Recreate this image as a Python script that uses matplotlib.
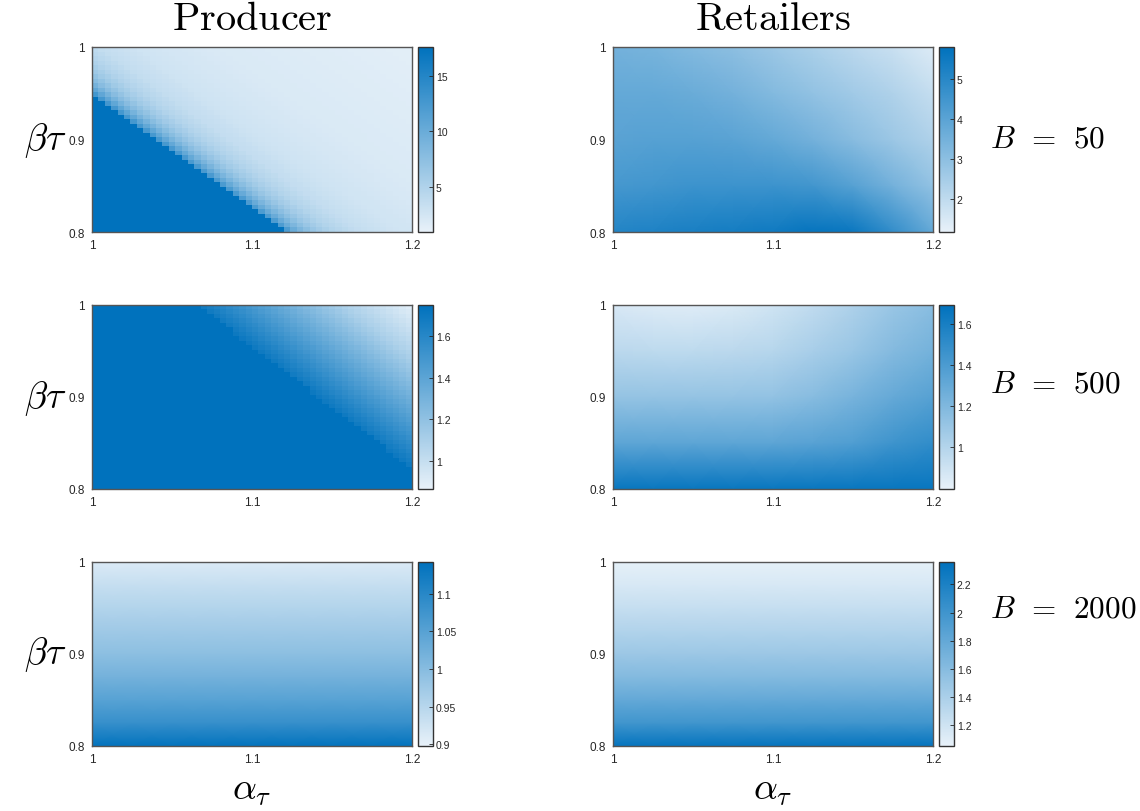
import numpy as np
import matplotlib.pyplot as plt
from matplotlib.colors import LinearSegmentedColormap
from matplotlib.ticker import FuncFormatter

plt.rcParams['mathtext.fontset'] = 'cm'
plt.rcParams['font.family'] = ['Liberation Sans', 'DejaVu Sans']

# grid anchors
alpha_pts = [1.0, 1.025, 1.05, 1.075, 1.1, 1.125, 1.15, 1.175, 1.2]
beta_pts = [0.8, 0.85, 0.9, 0.95, 1.0]
beta_fine = [0.8, 0.825, 0.85, 0.875, 0.9, 0.925, 0.95, 0.975, 1.0]

# retailers, rows = beta_pts, cols = alpha_pts
ret50 = [[5.1, 5.2, 5.3, 5.4, 5.5, 5.7, 5.6, 4.8, 3.8],
         [4.4, 4.5, 4.6, 4.6, 4.6, 4.5, 4.1, 3.5, 2.9],
         [4.0, 4.1, 4.1, 4.0, 3.8, 3.5, 3.1, 2.7, 2.3],
         [3.8, 3.8, 3.7, 3.5, 3.2, 2.9, 2.6, 2.3, 1.9],
         [3.5, 3.4, 3.2, 3.0, 2.7, 2.4, 2.1, 1.8, 1.4]]
ret500 = [[1.66, 1.66, 1.66, 1.66, 1.66, 1.66, 1.66, 1.66, 1.66],
          [1.33, 1.33, 1.33, 1.33, 1.33, 1.35, 1.38, 1.45, 1.50],
          [1.12, 1.12, 1.12, 1.12, 1.13, 1.17, 1.23, 1.30, 1.36],
          [0.97, 0.96, 0.96, 0.97, 0.99, 1.04, 1.10, 1.18, 1.24],
          [0.86, 0.84, 0.83, 0.85, 0.89, 0.95, 1.02, 1.10, 1.16]]
# B=2000 only changes with beta (rows = beta_fine)
prod2000 = [1.14, 1.085, 1.05, 1.02, 0.995, 0.975, 0.955, 0.935, 0.912]
ret2000 = [2.33, 2.0, 1.8, 1.62, 1.48, 1.36, 1.25, 1.15, 1.07]

# producer: saturated area below an edge line, value vs distance from the edge
prod50_edge_beta = [0.8, 1.0]
prod50_edge_alpha = [1.122, 0.960]
prod50_off = [0, 0.006, 0.012, 0.02, 0.03, 0.045, 0.07, 0.12, 0.24]
prod50_val = [13, 10, 8.0, 6.2, 4.8, 3.6, 2.7, 2.0, 1.4]
prod500_edge_beta = [0.8, 1.0]
prod500_edge_alpha = [1.217, 1.066]
prod500_off = [0, 0.03, 0.06, 0.09, 0.135]
prod500_val = [1.70, 1.50, 1.30, 1.10, 0.88]

clims = {'p50': (0.96, 17.6), 'r50': (1.18, 5.8), 'p500': (0.866, 1.75),
         'r500': (0.795, 1.69), 'p2000': (0.898, 1.142), 'r2000': (1.05, 2.36)}
cticks = {'p50': [5, 10, 15], 'r50': [2, 3, 4, 5], 'p500': [1, 1.2, 1.4, 1.6],
          'r500': [1, 1.2, 1.4, 1.6], 'p2000': [0.9, 0.95, 1, 1.05, 1.1],
          'r2000': [1.2, 1.4, 1.6, 1.8, 2, 2.2]}

cmap = LinearSegmentedColormap.from_list('blues', ['#E8F1F9', '#0072BD'])

W, H = 1140, 812
fig = plt.figure(figsize=(W / 100, H / 100), dpi=100)

def px_axes(x0, y0, x1, y1):
    return fig.add_axes([x0 / W, 1 - y1 / H, (x1 - x0) / W, (y1 - y0) / H])

rows_y = [(48, 233), (306, 490), (563, 747)]
cols_x = [(92, 412, 418, 433), (613, 933, 939, 954)]

# fine cell grid for the producer maps
a_edges = np.linspace(1.0, 1.2, 51)
b_edges = np.linspace(0.8, 1.0, 42)
a_c = (a_edges[:-1] + a_edges[1:]) / 2
b_c = (b_edges[:-1] + b_edges[1:]) / 2
AA, BB = np.meshgrid(a_c, b_c)

def producer(edge_b, edge_a, off, val):
    d = AA - np.interp(BB, edge_b, edge_a)
    return np.where(d < 0, 1e3, np.interp(d, off, val))

fmt = FuncFormatter(lambda v, p: '%g' % v)

def panel(r, c, key, kind, Z):
    ya, yb = rows_y[r]
    x0, x1, cx0, cx1 = cols_x[c]
    ax = px_axes(x0, ya, x1, yb)
    vmin, vmax = clims[key]
    if kind == 'fine':
        m = ax.pcolormesh(a_edges, b_edges, Z, cmap=cmap, vmin=vmin, vmax=vmax, shading='flat')
    elif kind == 'col':
        Zt = np.tile(np.array(Z)[:, None], (1, len(alpha_pts)))
        m = ax.pcolormesh(alpha_pts, beta_fine, Zt, cmap=cmap, vmin=vmin, vmax=vmax, shading='gouraud')
    else:
        m = ax.pcolormesh(alpha_pts, beta_pts, np.array(Z), cmap=cmap, vmin=vmin, vmax=vmax, shading='gouraud')
    ax.set_xlim(1.0, 1.2)
    ax.set_ylim(0.8, 1.0)
    ax.set_xticks([1, 1.1, 1.2])
    ax.set_yticks([0.8, 0.9, 1])
    ax.xaxis.set_major_formatter(fmt)
    ax.yaxis.set_major_formatter(fmt)
    ax.tick_params(length=0, labelsize=8.5, colors='#262626', pad=5)
    for s in ax.spines.values():
        s.set_color('#555555')
        s.set_linewidth(1.0)
    cax = px_axes(cx0, ya, cx1, yb)
    cb = fig.colorbar(m, cax=cax)
    cb.set_ticks(cticks[key])
    cb.ax.yaxis.set_major_formatter(fmt)
    cb.ax.tick_params(direction='in', length=3, width=0.6, labelsize=7.5, colors='#262626', pad=2)
    cb.outline.set_edgecolor('#333333')
    cb.outline.set_linewidth(1.0)
    if c == 0:
        ax.set_ylabel(r'$\beta\tau$', fontsize=27, rotation=0, ha='center', va='center')
        ax.yaxis.set_label_coords(-0.147, 0.5)
    if r == 2:
        ax.set_xlabel(r'$\alpha_\tau$', fontsize=27, va='center')
        ax.xaxis.set_label_coords(0.5, -0.235)
    return ax

ax = panel(0, 0, 'p50', 'fine', producer(prod50_edge_beta, prod50_edge_alpha, prod50_off, prod50_val))
ax.set_title(r'$\mathrm{Producer}$', fontsize=29, pad=13)
ax = panel(0, 1, 'r50', 'grid', ret50)
ax.set_title(r'$\mathrm{Retailers}$', fontsize=29, pad=13)
panel(1, 0, 'p500', 'fine', producer(prod500_edge_beta, prod500_edge_alpha, prod500_off, prod500_val))
panel(1, 1, 'r500', 'grid', ret500)
panel(2, 0, 'p2000', 'col', prod2000)
panel(2, 1, 'r2000', 'col', ret2000)

for lab, y in [('50', 140), ('500', 385), ('2000', 610)]:
    fig.text(990 / W, 1 - y / H, r'$B\;\,=\;\,%s$' % lab, fontsize=22.5, ha='left', va='center')

fig.savefig('out.png', dpi=100)
